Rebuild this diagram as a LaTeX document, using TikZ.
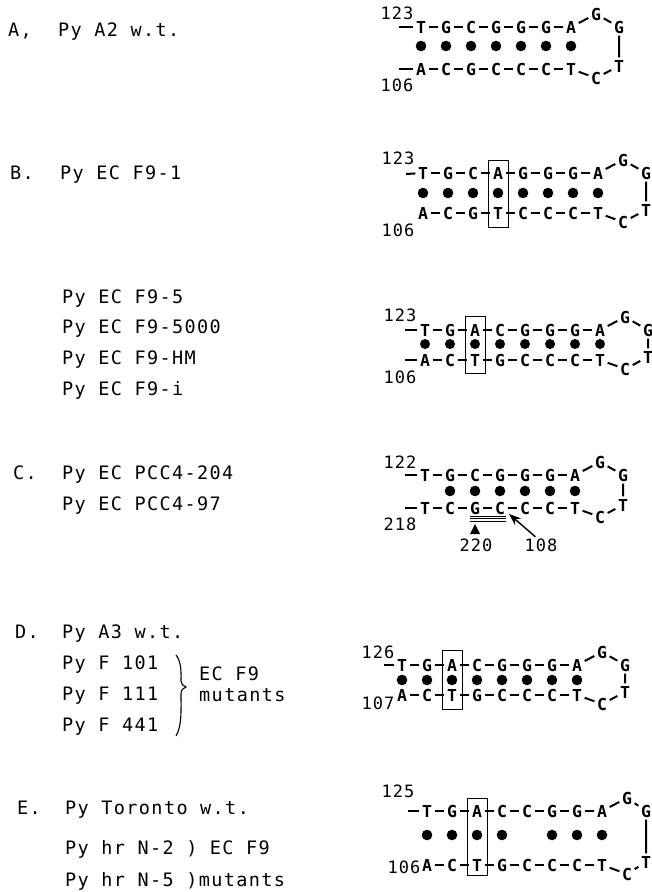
\documentclass[tikz,border=0pt]{standalone}
\usepackage{fontspec}
\usetikzlibrary{arrows.meta}
\newfontfamily\lbfont[LetterSpace=7.5]{DejaVu Sans Mono}
\newfontfamily\sqfont[LetterSpace=4]{DejaVu Sans Mono Bold}
\newfontfamily\nmfont[LetterSpace=6]{DejaVu Sans Mono}
\tikzset{
  lbl/.style={font=\lbfont\fontsize{18.5}{20}\selectfont, anchor=base west, inner sep=0pt},
  nt/.style={font=\sqfont\fontsize{16.5}{18}\selectfont, inner sep=2.5pt, text height=12pt, text depth=0pt},
  num/.style={font=\nmfont\fontsize{17}{18}\selectfont, inner sep=0pt, text height=12pt, text depth=0pt},
  strand/.style={line width=2pt},
  pairdot/.style={fill=black},
  mutbox/.style={line width=1pt},
  uline/.style={line width=0.8pt},
}
\newcommand\hairpin[8]{%
  \foreach \b [count=\i] in {#5} {\node[nt] (#1t\i) at ({#2+25*(\i-1)},#3) {\b};}
  \foreach \b [count=\i] in {#6} {\node[nt] (#1b\i) at ({#2+25*(\i-1)},#4) {\b};}
  \foreach \i [evaluate=\i as \k using int(\i-1)] in {2,...,#7} {
    \draw[strand] (#1t\k) -- (#1t\i);
    \draw[strand] (#1b\k) -- (#1b\i);}
  \node[nt] (#1g1) at ({#2+25*#7},{#3-13}) {G};
  \node[nt] (#1g2) at (#8,#3) {G};
  \node[nt] (#1lt) at (#8,{#4-3}) {T};
  \node[nt] (#1lc) at ({#2+25*#7},{#4+9}) {C};
  \draw[strand] (#1t#7) -- (#1g1) -- (#1g2) -- (#1lt) -- (#1lc) -- (#1b#7);
}
\begin{document}
\begin{tikzpicture}[x=1pt,y=-1pt]
\path[fill=white,use as bounding box] (0,0) rectangle (652,892);

% ---------- left labels ----------
\node[lbl] (la)  at (8,36.5)  {A,};
\node[lbl] (la1) at (58,36.5) {Py A2 w.t.};
\node[lbl] (lb)  at (10,179.5) {B.};
\node[lbl] (lb1) at (60,179.5) {Py EC F9-1};
\node[lbl] (lf1) at (62,303.5) {Py EC F9-5};
\node[lbl] (lf2) at (62,333.5) {Py EC F9-5000};
\node[lbl] (lf3) at (62,364.5) {Py EC F9-HM};
\node[lbl] (lf4) at (62,395.5) {Py EC F9-i};
\node[lbl] (lc)  at (13,479.5) {C.};
\node[lbl] (lc1) at (62,479.5) {Py EC PCC4-204};
\node[lbl] (lc2) at (62,510.5) {Py EC PCC4-97};
\node[lbl] (ld)  at (15,638.5) {D.};
\node[lbl] (ld1) at (62,638.5) {Py A3 w.t.};
\node[lbl] (ld2) at (62,669.5) {Py F 101};
\node[lbl] (ld3) at (62,700.5) {Py F 111};
\node[lbl] (ld4) at (62,731.5) {Py F 441};
\node[lbl] (ld5) at (199,680.5) {EC F9};
\node[lbl] (ld6) at (199,701.5) {mutants};
\draw[line width=1.1pt] (176,655) .. controls (182,662) and (181,676) .. (181,681)
  .. controls (181,684) and (183,686) .. (186,687)
  .. controls (183,688) and (181,690) .. (181,694)
  .. controls (181,710) and (182,726) .. (176,736);
\node[lbl] (le)  at (17,814.5) {E.};
\node[lbl] (le1) at (65,814.5) {Py Toronto w.t.};
\node[lbl] (le2) at (65,854.5) {Py hr N-2 ) EC F9};
\node[lbl] (le3) at (65,886.5) {Py hr N-5 )mutants};

% ---------- A ----------
\hairpin{A}{421}{27}{69}{T,G,C,G,G,G,A}{A,C,G,C,C,C,T}{7}{619}
\foreach \c in {1,...,7} \fill[pairdot] ({421+25*(\c-1)},46) circle (5.3pt);
\node[num] (A123) at (397,13) {123};
\node[num] (A106) at (397,85) {106};
\coordinate (Alt) at (399,27); \draw[strand] (Alt) -- (At1);
\coordinate (Alb) at (399,69); \draw[strand] (Alb) -- (Ab1);

% ---------- B ----------
\hairpin{B}{423}{173}{213}{T,G,C,A,G,G,G,A}{A,C,G,T,C,C,C,T}{8}{646}
\foreach \c in {1,...,8} \fill[pairdot] ({423+25*(\c-1)},193) circle (5.3pt);
\draw[mutbox] (488,160) rectangle (508,227);
\node[num] (B123) at (398,158) {123};
\node[num] (B106) at (398,230) {106};
\coordinate (Blt) at (406,174); \draw[strand] (Blt) -- (Bt1);

% ---------- B2 ----------
\hairpin{F}{425}{330}{360}{T,G,A,C,G,G,G,A}{A,C,T,G,C,C,C,T}{8}{648}
\foreach \c in {1,...,8} \fill[pairdot] ({425+25*(\c-1)},344) circle (5pt);
\draw[mutbox] (465,316) rectangle (485,373);
\node[num] (F123) at (400,315) {123};
\node[num] (F106) at (400,377) {106};
\coordinate (Flt) at (405,330); \draw[strand] (Flt) -- (Ft1);
\coordinate (Flb) at (405,360); \draw[strand] (Flb) -- (Fb1);

% ---------- C ----------
\hairpin{C}{425}{475}{508}{T,G,C,G,G,G,A}{T,C,G,C,C,C,T}{7}{623}
\foreach \c in {2,...,7} \fill[pairdot] ({425+25*(\c-1)},491) circle (5.3pt);
\node[num] (C122) at (400,462) {122};
\node[num] (C218) at (400,524) {218};
\coordinate (Clt) at (405,475); \draw[strand] (Clt) -- (Ct1);
\coordinate (Clb) at (405,508); \draw[strand] (Clb) -- (Cb1);
\foreach \yy in {516,518.5,521} \draw[uline] (470,\yy) -- (506,\yy);
\node[num] (n220) at (476,545) {220};
\node[num] (n108) at (541,545) {108};
\fill (475,524) -- (480,534) -- (470,534) -- cycle;
\coordinate (arrtip) at (509,514);
\draw[line width=1.4pt,-{Stealth[length=12pt,width=9pt]}] ([xshift=11pt,yshift=2pt]n108.north west) -- (arrtip);

% ---------- D ----------
\hairpin{D}{402}{665}{695}{T,G,A,C,G,G,G,A}{A,C,T,G,C,C,C,T}{8}{625}
\foreach \c in {1,...,8} \fill[pairdot] ({402+25*(\c-1)},680) circle (5.3pt);
\draw[mutbox] (442,650) rectangle (462,709);
\node[num] (D126) at (378,652) {126};
\node[num] (D107) at (378,703) {107};
\coordinate (Dlt) at (384,665); \draw[strand] (Dlt) -- (Dt1);

% ---------- E ----------
\hairpin{E}{427}{811}{865}{T,G,A,C,C,G,G,A}{A,C,T,G,C,C,C,T}{8}{646}
\foreach \c in {1,2,3,4,6,7,8} \fill[pairdot] ({427+25*(\c-1)},835) circle (5.3pt);
\draw[mutbox] (467,798) rectangle (487,875);
\node[num] (E125) at (398,791) {125};
\node[num] (E106) at (404,867) {106};
\coordinate (Elt) at (408,811); \draw[strand] (Elt) -- (Et1);
\end{tikzpicture}
\end{document}
